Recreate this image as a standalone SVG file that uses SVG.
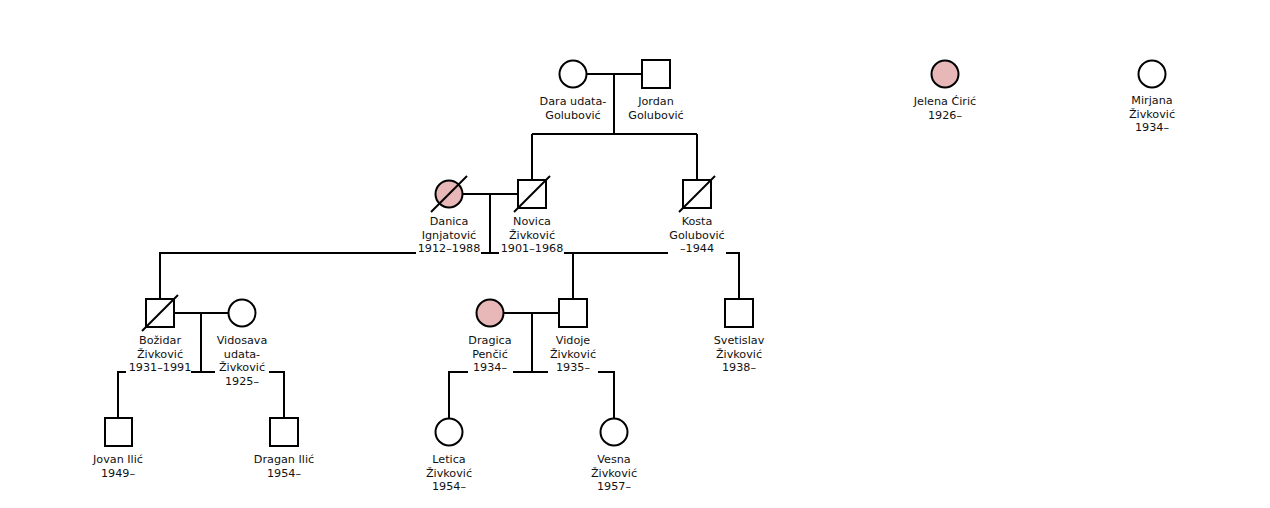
<svg xmlns="http://www.w3.org/2000/svg" width="1270" height="508" viewBox="0 0 1270 508">
<style>
.n{fill:#fff;stroke:#000;stroke-width:2}
.a{fill:#e8b7b7}
.c{fill:none;stroke:#000;stroke-width:2}
.s{stroke:#000;stroke-width:2}
text{font-family:"DejaVu Sans",sans-serif;font-size:11.2px;fill:#111;text-anchor:middle}
</style>
<rect width="1270" height="508" fill="#fff"/>
<g id="connectors" class="c">
<path d="M587,74H642M614,74V134M532,134H697M532,134V180M697,134V180"/>
<path d="M463,194H518M490,194V253"/>
<path d="M160,299V253H416M481,253H499M564,253H668M726,253H739V299M573,253V299"/>
<path d="M174,313H228M201,313V372"/>
<path d="M118,418V372H126M191,372H215M269,372H284V418"/>
<path d="M504,313H559M532,313V372"/>
<path d="M449,418V372H468M513,372H548M598,372H614V418"/>
</g>
<g id="dara"><circle class="n" cx="573" cy="74" r="13.5"/><text x="573" y="105">Dara udata-</text><text x="573" y="118.6">Golubović</text></g>
<g id="jordan"><rect class="n" x="642" y="60" width="28" height="28"/><text x="656" y="105">Jordan</text><text x="656" y="118.6">Golubović</text></g>
<g id="danica"><circle class="n a" cx="449" cy="194" r="13.5"/><line class="s" x1="431" y1="212" x2="467" y2="176"/><text x="449" y="225">Danica</text><text x="449" y="238.6">Ignjatović</text><text x="449" y="252.2">1912–1988</text></g>
<g id="novica"><rect class="n" x="518" y="180" width="28" height="28"/><line class="s" x1="514" y1="212" x2="550" y2="176"/><text x="532" y="225">Novica</text><text x="532" y="238.6">Živković</text><text x="532" y="252.2">1901–1968</text></g>
<g id="kosta"><rect class="n" x="683" y="180" width="28" height="28"/><line class="s" x1="679" y1="212" x2="715" y2="176"/><text x="697" y="225">Kosta</text><text x="697" y="238.6">Golubović</text><text x="697" y="252.2">–1944</text></g>
<g id="bozidar"><rect class="n" x="146" y="299" width="28" height="28"/><line class="s" x1="142" y1="331" x2="178" y2="295"/><text x="160" y="344">Božidar</text><text x="160" y="357.6">Živković</text><text x="160" y="371.2">1931–1991</text></g>
<g id="vidosava"><circle class="n" cx="242" cy="313" r="13.5"/><text x="242" y="344">Vidosava</text><text x="242" y="357.6">udata-</text><text x="242" y="371.2">Živković</text><text x="242" y="384.8">1925–</text></g>
<g id="dragica"><circle class="n a" cx="490" cy="313" r="13.5"/><text x="490" y="344">Dragica</text><text x="490" y="357.6">Penčić</text><text x="490" y="371.2">1934–</text></g>
<g id="vidoje"><rect class="n" x="559" y="299" width="28" height="28"/><text x="573" y="344">Vidoje</text><text x="573" y="357.6">Živković</text><text x="573" y="371.2">1935–</text></g>
<g id="svetislav"><rect class="n" x="725" y="299" width="28" height="28"/><text x="739" y="344">Svetislav</text><text x="739" y="357.6">Živković</text><text x="739" y="371.2">1938–</text></g>
<g id="jovan"><rect class="n" x="105" y="418" width="27" height="28"/><text x="118" y="463">Jovan Ilić</text><text x="118" y="476.6">1949–</text></g>
<g id="dragan"><rect class="n" x="270" y="418" width="28" height="28"/><text x="284" y="463">Dragan Ilić</text><text x="284" y="476.6">1954–</text></g>
<g id="letica"><circle class="n" cx="449" cy="432" r="13.5"/><text x="449" y="463">Letica</text><text x="449" y="476.6">Živković</text><text x="449" y="490.2">1954–</text></g>
<g id="vesna"><circle class="n" cx="614" cy="432" r="13.5"/><text x="614" y="463">Vesna</text><text x="614" y="476.6">Živković</text><text x="614" y="490.2">1957–</text></g>
<g id="jelena"><circle class="n a" cx="945" cy="74" r="13.5"/><text x="945" y="105">Jelena Ćirić</text><text x="945" y="118.6">1926–</text></g>
<g id="mirjana"><circle class="n" cx="1152" cy="74" r="13.5"/><text x="1152" y="104">Mirjana</text><text x="1152" y="117.6">Živković</text><text x="1152" y="131.2">1934–</text></g>
</svg>
